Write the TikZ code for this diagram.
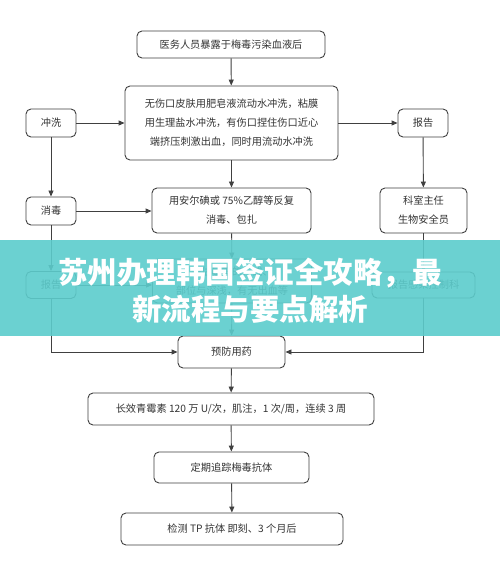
\documentclass[tikz,border=0pt]{standalone}
\usepackage{fontspec}
\usepackage{tikz}
\usetikzlibrary{arrows.meta,positioning}
\setmainfont{Noto Sans CJK SC}
\newfontfamily\cjkbold{Noto Sans CJK SC}
\definecolor{linegray}{HTML}{404040}
\definecolor{textgray}{HTML}{333333}
\definecolor{banner}{HTML}{5CCCCC}
\tikzset{
  stepbox/.style={draw=linegray, rounded corners=5pt, line width=0.9pt, align=center,
    inner sep=0pt, font=\fontsize{10.2}{19}\selectfont, text=textgray, fill=white},
  arr/.style={-{Triangle[length=6pt,width=5pt]}, line width=0.9pt, draw=linegray},
  bannertext/.style={text=white, font=\cjkbold\bfseries\fontsize{29.5}{36}\selectfont, align=center}
}

\begin{document}
\begin{tikzpicture}[x=1pt, y=-1pt]
    \useasboundingbox (0,0) rectangle (500,577);
    \fill[white] (0,0) rectangle (500,577);

    % centre column
    \node[stepbox, minimum width=188pt, minimum height=27pt] (expose) at (231,44.5) {医务人员暴露于梅毒污染血液后};
    \node[stepbox, minimum width=213pt, minimum height=74pt] (wash) at (231.5,123) {无伤口皮肤用肥皂液流动水冲洗，粘膜\\用生理盐水冲洗，有伤口捏住伤口近心\\端挤压刺激出血，同时用流动水冲洗};
    \node[stepbox, minimum width=159pt, minimum height=45pt] (iodine) at (231.5,210.5) {用安尔碘或 75\%乙醇等反复\\消毒、包扎};
    \node[stepbox, minimum width=159pt, minimum height=44pt] (assess) at (232,281) {评估暴露的方式、\\部位与深浅，有无出血等};
    \node[stepbox, minimum width=107pt, minimum height=32pt] (prevent) at (231.5,352) {预防用药};
    \node[stepbox, minimum width=286pt, minimum height=32pt] (penicillin) at (231,409) {长效青霉素 120 万 U/次，肌注，1 次/周，连续 3 周};
    \node[stepbox, minimum width=155pt, minimum height=31pt] (track) at (231.5,467.5) {定期追踪梅毒抗体};
    \node[stepbox, minimum width=222pt, minimum height=32pt] (test) at (232,529) {检测 TP 抗体 即刻、3 个月后};

    % left column
    \node[stepbox, minimum width=50pt, minimum height=28pt] (rinse) at (51,123) {冲洗};
    \node[stepbox, minimum width=50pt, minimum height=28pt] (disinfect) at (51,211) {消毒};
    \node[stepbox, minimum width=50pt, minimum height=27pt] (reportl) at (51,285) {报告};

    % right column
    \node[stepbox, minimum width=50pt, minimum height=28pt] (reportr) at (423,123) {报告};
    \node[stepbox, minimum width=87pt, minimum height=45pt] (chief) at (423.5,210.5) {科室主任\\生物安全员};
    \node[stepbox, minimum width=103pt, minimum height=26pt] (infect) at (423.5,285) {报告感染控制科};

    \draw[arr] (expose) -- (wash);
    \draw[arr] (wash) -- (iodine);
    \draw[arr] (iodine) -- (assess);
    \draw[arr] (assess) -- (prevent);
    \draw[arr] (prevent) -- (penicillin);
    \draw[arr] (penicillin) -- (track);
    \draw[arr] (track) -- (test);

    \draw[arr] (rinse) -- (wash.west |- rinse);
    \draw[arr] (disinfect) -- (iodine.west |- disinfect);
    \draw[arr] (reportl) -- (assess.west |- reportl);
    \draw[arr] (rinse) -- (disinfect);
    \draw[arr] (disinfect) -- (reportl);
    \draw[arr] (reportl.south) |- (prevent.west);

    \draw[arr] (wash.east |- reportr) -- (reportr);
    \draw[arr] (reportr) -- (chief);
    \draw[arr] (chief) -- (infect);
    \draw[arr] (infect.south) |- (prevent.east);

    % banner
    \fill[banner, fill opacity=0.9] (0,240) rectangle (500,336);
    \node[bannertext] (title1) at (250,273) {苏州办理韩国签证全攻略，最};
    \node[bannertext] (title2) at (250,309) {新流程与要点解析};
\end{tikzpicture}
\end{document}
